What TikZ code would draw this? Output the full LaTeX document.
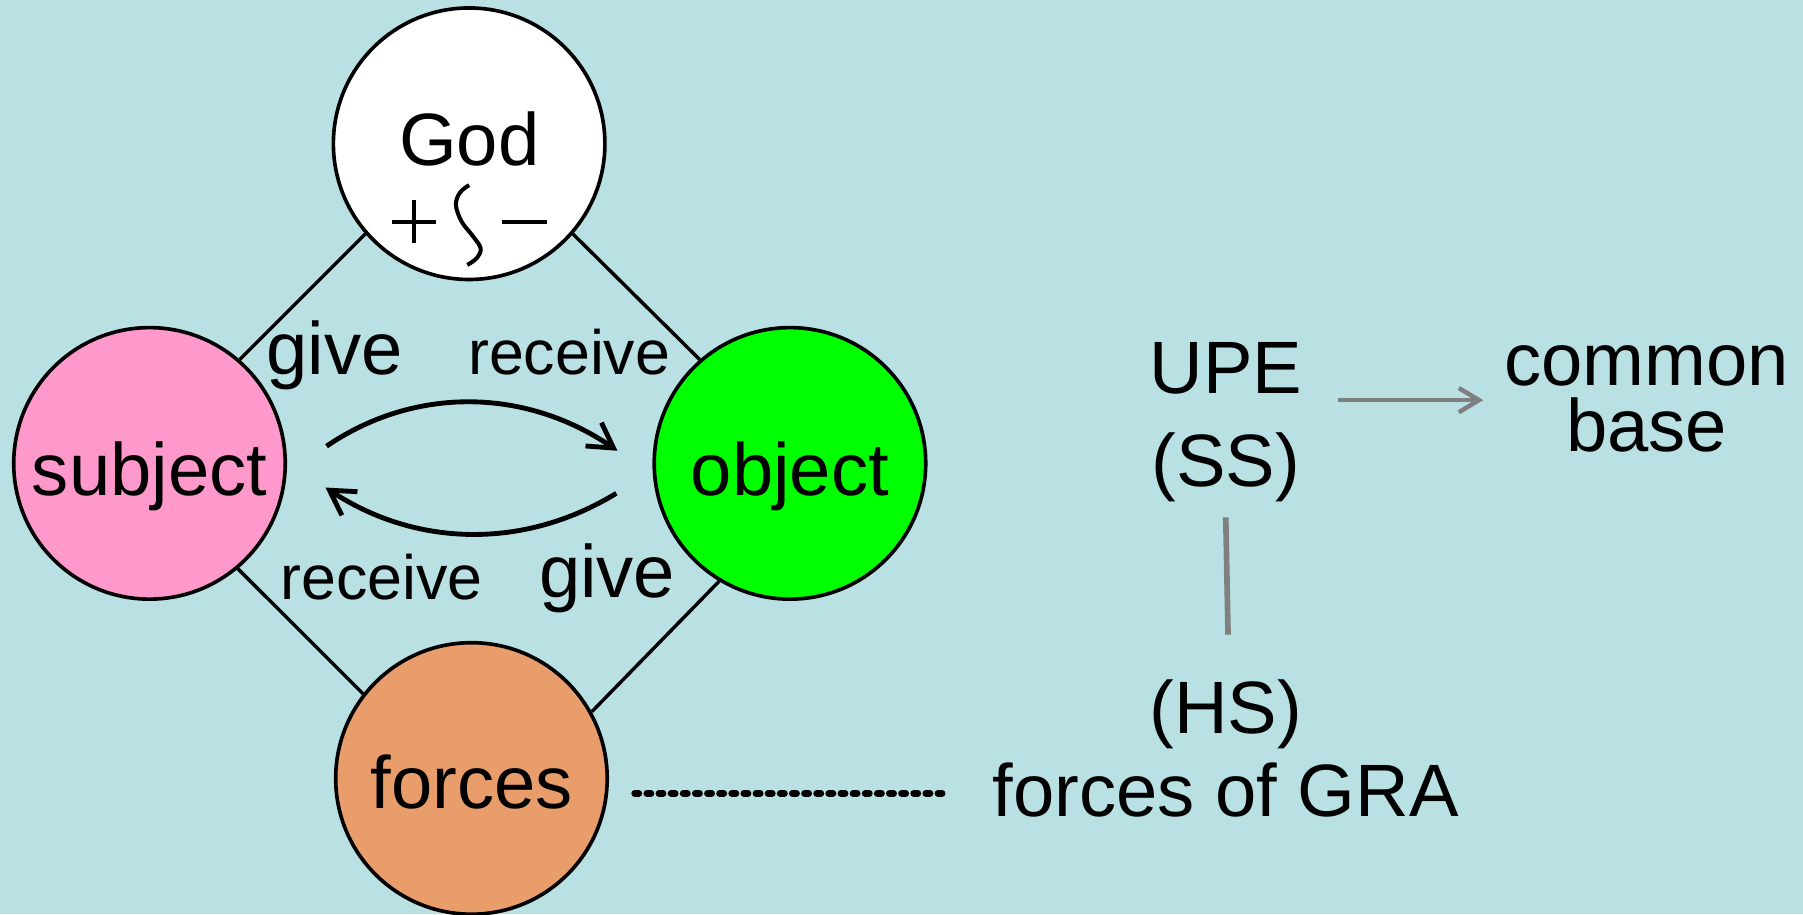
\documentclass[tikz,border=0pt]{standalone}
\usepackage{fontspec}
\setmainfont{Liberation Sans}
\usetikzlibrary{arrows.meta}
\definecolor{bgc}{RGB}{185,224,227}
\definecolor{pinkc}{RGB}{255,153,204}
\definecolor{greenc}{RGB}{0,255,0}
\definecolor{forcec}{RGB}{232,157,106}
\definecolor{grayc}{RGB}{128,128,128}
\newcommand\lfont{\fontsize{18.35}{22}\selectfont}
\newcommand\sfont{\fontsize{15.5}{19}\selectfont}
\begin{document}
\begin{tikzpicture}[x=0.01cm,y=-0.01cm,
  circ/.style={circle,draw,line width=0.9pt,minimum size=2.36cm,inner sep=0pt},
  lbl/.style={font=\lfont,inner sep=0pt,anchor=base},
  slbl/.style={font=\sfont,inner sep=0pt,anchor=base},
  conn/.style={line width=0.85pt},
  arr/.style={line width=1.2pt,-{Straight Barb[length=6pt,width=7pt]}},
  garr/.style={grayc,line width=1.1pt,-{Straight Barb[length=5pt,width=6pt]}},
  gline/.style={grayc,line width=1.4pt},
  dline/.style={line width=1.7pt,line cap=round,dash pattern=on 1pt off 2pt}]
\fill[bgc] (0,0) rectangle (1568,795);
\useasboundingbox (0,0) rectangle (1568,795);
% circles
\node[circ,fill=white] (god) at (408,125) {};
\node[circ,fill=pinkc] (subject) at (130,403) {};
\node[circ,fill=greenc] (object) at (687,403) {};
\node[circ,fill=forcec] (forces) at (410,677) {};
% connecting lines
\draw[conn] (god.221) -- (subject.49.5);
\draw[conn] (god.319.7) -- (object.131);
\draw[conn] (subject.310) -- (forces.142);
\draw[conn] (object.239) -- (forces.29);
% texts in circles
\node[lbl] (godt) at (408,144) {God};
\node[lbl] (subt) at (130,431) {subject};
\node[lbl] (objt) at (687,431) {object};
\node[lbl] (fort) at (410,703) {forces};
% + wave -
\draw[line width=1pt] (341,193) -- (379,193) (360,174) -- (360,211);
\draw[line width=1pt] (437,193) -- (476,193);
\draw[line width=1pt] plot[smooth,tension=0.6] coordinates {(408,161) (400,167.5) (396.5,178.3) (401.5,192.8) (411.6,205.8) (418,216) (414.5,224.6) (406.4,230.4)};
% labels
\node[lbl] (give1) at (291,326) {give};
\node[slbl] (rec1) at (495,326) {receive};
\node[slbl] (rec2) at (332,521) {receive};
\node[lbl] (give2) at (528,520) {give};
% exchange arrows
\coordinate (a1s) at (284,388);
\coordinate (a1e) at (537,392);
\coordinate (a2s) at (536,429);
\coordinate (a2e) at (283,424);
\draw[arr] (a1s) .. controls (362,335) and (458,338) .. (a1e);
\draw[arr] (a2s) .. controls (456,478) and (362,476) .. (a2e);
% dashed line
\coordinate (d1) at (552,690);
\coordinate (d2) at (820,690);
\draw[dline] (d1) -- (d2);
% right side
\node[lbl] (upe) at (1066,342) {UPE};
\node[lbl] (ss) at (1066,423) {(SS)};
\node[lbl] (common) at (1432,335) {common};
\node[lbl] (base) at (1432,393) {base};
\node[lbl] (hs) at (1066,638) {(HS)};
\node[lbl] (gra) at (1066,710) {forces of GRA};
\coordinate (g1) at (1164,348);
\coordinate (g2) at (1290,348);
\draw[garr] (g1) -- (g2);
\coordinate (v1) at (1066,450);
\coordinate (v2) at (1068,552);
\draw[gline] (v1) -- (v2);
\end{tikzpicture}
\end{document}
